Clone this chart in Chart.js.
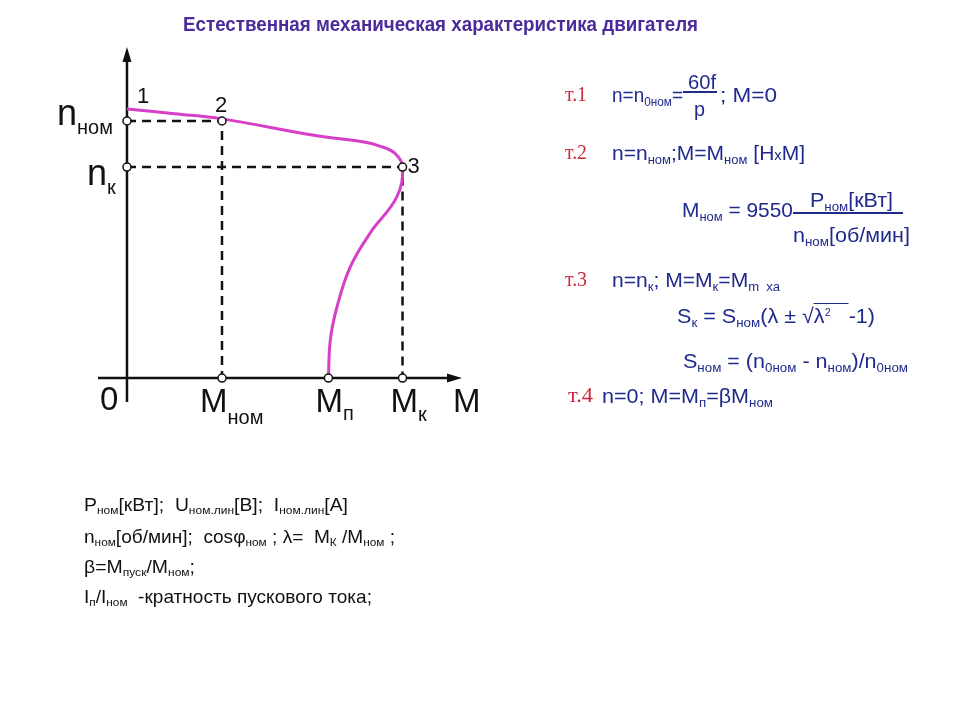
<!DOCTYPE html>
<html>
<head>
<meta charset="utf-8">
<script src="https://cdn.jsdelivr.net/npm/chart.js@4.4.0/dist/chart.umd.min.js"></script>
<style>
  html, body { margin: 0; padding: 0; background: #fff; }
  #wrap { position: relative; width: 960px; height: 720px; overflow: hidden; }
  #chart { position: absolute; left: 0; top: 0; }
  .t { position: absolute; white-space: nowrap; line-height: 1; transform-origin: 0 0;
       font-family: "Liberation Sans Narrow", "Liberation Sans", Arial, sans-serif; }
  .blue { color: #1f2a8c; font-size: 21px; }
  .red { color: #c8283a; font-family: "Liberation Serif", "Times New Roman", serif; font-size: 21px; }
  .blk { color: #111; font-size: 19px; }
  .s { font-size: 0.62em; position: relative; top: 0.28em; }
  .up { font-size: 0.5em; position: relative; top: -0.7em; }
  .bar { position: absolute; background: #1f2a8c; height: 2px; }
</style>
</head>
<body>
<div id="wrap">
  <canvas id="chart" width="960" height="720"></canvas>

  <div class="t" data-x="183" data-b="31" data-w="515" style="font-size:20px;font-weight:bold;color:#4b2b9b">Естественная механическая характеристика двигателя</div>

  <!-- т.1 -->
  <div class="t red" data-x="565" data-b="102" data-w="22">т.1</div>
  <div class="t blue" data-x="612" data-b="102" data-w="71">n=n<span class="s">0ном</span>=</div>
  <div class="t blue" data-x="688" data-b="89" data-w="28">60f</div>
  <div class="bar" style="left:683px;top:91px;width:34px"></div>
  <div class="t blue" data-x="694" data-b="116" data-w="11">p</div>
  <div class="t blue" data-x="720" data-b="102" data-w="57">; M=0</div>

  <!-- т.2 -->
  <div class="t red" data-x="565" data-b="160" data-w="22">т.2</div>
  <div class="t blue" data-x="612" data-b="160" data-w="193">n=n<span class="s">ном</span>;M=M<span class="s">ном</span> [Н<span style="font-size:0.7em">х</span>М]</div>
  <div class="t blue" data-x="682" data-b="217" data-w="111">M<span class="s">ном</span> = 9550</div>
  <div class="bar" style="left:793px;top:212px;width:110px;height:1.5px"></div>
  <div class="t blue" data-x="810" data-b="207" data-w="83">P<span class="s">ном</span>[кВт]</div>
  <div class="t blue" data-x="793" data-b="242" data-w="117">n<span class="s">ном</span>[об/мин]</div>

  <!-- т.3 -->
  <div class="t red" data-x="565" data-b="287" data-w="22">т.3</div>
  <div class="t blue" data-x="612" data-b="287" data-w="168">n=n<span class="s">к</span>; M=M<span class="s">к</span>=M<span class="s">m&nbsp;&nbsp;ха</span></div>
  <div class="t blue" data-x="677" data-b="323" data-w="198">S<span class="s">к</span> = S<span class="s">ном</span>(λ ± √<span style="border-top:1.5px solid #1f2a8c">λ<span class="up">2</span>&nbsp;&nbsp;&nbsp;</span>-1)</div>
  <div class="t blue" data-x="683" data-b="368" data-w="225">S<span class="s">ном</span> = (n<span class="s">0ном</span> - n<span class="s">ном</span>)/n<span class="s">0ном</span></div>

  <!-- т.4 -->
  <div class="t red" data-x="568" data-b="403" data-w="25">т.4</div>
  <div class="t blue" data-x="602" data-b="403" data-w="171">n=0; M=M<span class="s">п</span>=βM<span class="s">ном</span></div>

  <!-- нижний текст -->
  <div class="t blk" data-x="84" data-b="511" data-w="264">P<span class="s">ном</span>[кВт];&nbsp; U<span class="s">ном.лин</span>[B];&nbsp; I<span class="s">ном.лин</span>[A]</div>
  <div class="t blk" data-x="84" data-b="543" data-w="311">n<span class="s">ном</span>[об/мин];&nbsp; cosφ<span class="s">ном</span> ; λ=&nbsp; M<span class="s">К</span> /M<span class="s">ном</span> ;</div>
  <div class="t blk" data-x="84" data-b="573" data-w="111">β=M<span class="s">пуск</span>/M<span class="s">ном</span>;</div>
  <div class="t blk" data-x="84" data-b="603" data-w="288">I<span class="s">п</span>/I<span class="s">ном</span>&nbsp; -кратность пускового тока;</div>
</div>

<script>
// Механическая характеристика (M в долях Mном, n в долях n0)
const curveM = [0, 0.5, 1.0, 2.0, 2.48, 2.66, 2.82, 2.9, 2.84, 2.56, 2.35, 2.21, 2.14, 2.12];
const curveN = [1.0, 0.982, 0.963, 0.9, 0.878, 0.862, 0.835, 0.784, 0.673, 0.539, 0.413, 0.264, 0.141, 0];

// Характерные точки
const nNom = 0.955;
const nK = 0.784;
const mNom = 1.0;
const mP = 2.12;
const mK = 2.9;

const curve = curveM.map((m, i) => ({ x: m, y: curveN[i] }));
const dashNom = [{ x: 0, y: nNom }, { x: mNom, y: nNom }, { x: mNom, y: 0 }];
const dashK = [{ x: 0, y: nK }, { x: mK, y: nK }, { x: mK, y: 0 }];
const marks = [
  { x: 0, y: nNom }, { x: 0, y: nK }, { x: mNom, y: nNom }, { x: mK, y: nK },
  { x: mNom, y: 0 }, { x: mP, y: 0 }, { x: mK, y: 0 }
];

function drawSub(ctx, main, sub, x, y, size, subSize, dy) {
  ctx.font = size + 'px "Liberation Sans", Arial, sans-serif';
  ctx.fillText(main, x, y);
  const w = ctx.measureText(main).width;
  ctx.font = subSize + 'px "Liberation Sans", Arial, sans-serif';
  ctx.fillText(sub, x + w, y + dy);
}

const axesPlugin = {
  id: 'axes',
  beforeDatasetsDraw(chart) {
    const { ctx, chartArea: a, scales: { x, y } } = chart;
    const x0 = x.getPixelForValue(0), y0 = y.getPixelForValue(0);
    ctx.save();
    ctx.strokeStyle = '#111';
    ctx.fillStyle = '#111';
    ctx.lineWidth = 2.5;
    ctx.beginPath();
    ctx.moveTo(a.left, y0); ctx.lineTo(a.right - 10, y0);
    ctx.moveTo(x0, a.bottom); ctx.lineTo(x0, a.top + 10);
    ctx.stroke();
    // стрелки
    ctx.beginPath();
    ctx.moveTo(a.right, y0); ctx.lineTo(a.right - 15, y0 - 4.5); ctx.lineTo(a.right - 15, y0 + 4.5);
    ctx.closePath(); ctx.fill();
    ctx.beginPath();
    ctx.moveTo(x0, a.top); ctx.lineTo(x0 - 4.5, a.top + 15); ctx.lineTo(x0 + 4.5, a.top + 15);
    ctx.closePath(); ctx.fill();
    ctx.restore();
  },
  afterDraw(chart) {
    const { ctx, scales: { x, y } } = chart;
    const x0 = x.getPixelForValue(0), y0 = y.getPixelForValue(0);
    const yNom = y.getPixelForValue(nNom), yK = y.getPixelForValue(nK);
    const xNom = x.getPixelForValue(mNom), xP = x.getPixelForValue(mP), xK = x.getPixelForValue(mK);
    ctx.save();
    ctx.fillStyle = '#111';
    ctx.textBaseline = 'alphabetic';
    ctx.font = '22px "Liberation Sans", Arial, sans-serif';
    ctx.fillText('1', x0 + 10, y.getPixelForValue(1.0) - 6);
    ctx.fillText('2', xNom - 7, yNom - 9);
    ctx.fillText('3', xK + 5, yK + 6);
    drawSub(ctx, 'n', 'ном', x0 - 70, yNom + 4, 36, 20, 9);
    drawSub(ctx, 'n', 'к', x0 - 40, yK + 18, 36, 20, 9);
    ctx.font = '33px "Liberation Sans", Arial, sans-serif';
    ctx.fillText('0', x0 - 27, y0 + 32);
    drawSub(ctx, 'M', 'ном', xNom - 22, y0 + 34, 33, 20, 12);
    drawSub(ctx, 'M', 'п', xP - 13, y0 + 34, 33, 20, 8);
    drawSub(ctx, 'M', 'к', xK - 12, y0 + 34, 33, 20, 9);
    ctx.font = '33px "Liberation Sans", Arial, sans-serif';
    ctx.fillText('M', x.getPixelForValue(0) + 326, y0 + 34);
    ctx.restore();
  }
};

new Chart(document.getElementById('chart'), {
  type: 'scatter',
  data: {
    datasets: [
      {
        data: marks,
        showLine: false,
        pointRadius: 4,
        pointBorderWidth: 1.5,
        pointBackgroundColor: '#fff',
        pointBorderColor: '#111'
      },
      {
        data: curve,
        showLine: true,
        borderColor: '#d63fc6',
        borderWidth: 3,
        tension: 0.4,
        pointRadius: 0
      },
      {
        data: dashNom,
        showLine: true,
        borderColor: '#111',
        borderWidth: 2.5,
        borderDash: [9, 6],
        pointRadius: 0
      },
      {
        data: dashK,
        showLine: true,
        borderColor: '#111',
        borderWidth: 2.5,
        borderDash: [9, 6],
        pointRadius: 0
      }
    ]
  },
  options: {
    responsive: false,
    animation: false,
    layout: { padding: { left: 98, right: 498, top: 47, bottom: 318 } },
    scales: {
      x: { type: 'linear', min: -0.305, max: 3.526, display: false },
      y: { type: 'linear', min: -0.089, max: 1.23, display: false }
    },
    plugins: { legend: { display: false }, tooltip: { enabled: false } }
  },
  plugins: [axesPlugin]
});

// размещение текстов по базовой линии и подгонка ширины
function placeTexts() {
  document.querySelectorAll('.t').forEach(el => {
    const fs = parseFloat(getComputedStyle(el).fontSize);
    el.style.left = el.dataset.x + 'px';
    el.style.top = (parseFloat(el.dataset.b) - 0.85 * fs) + 'px';
    el.style.transform = 'none';
    const w = el.getBoundingClientRect().width;
    if (el.dataset.w && w > 0) {
      el.style.transform = 'scaleX(' + (parseFloat(el.dataset.w) / w) + ')';
    }
  });
}
placeTexts();
if (document.fonts) document.fonts.ready.then(placeTexts);
</script>
</body>
</html>
